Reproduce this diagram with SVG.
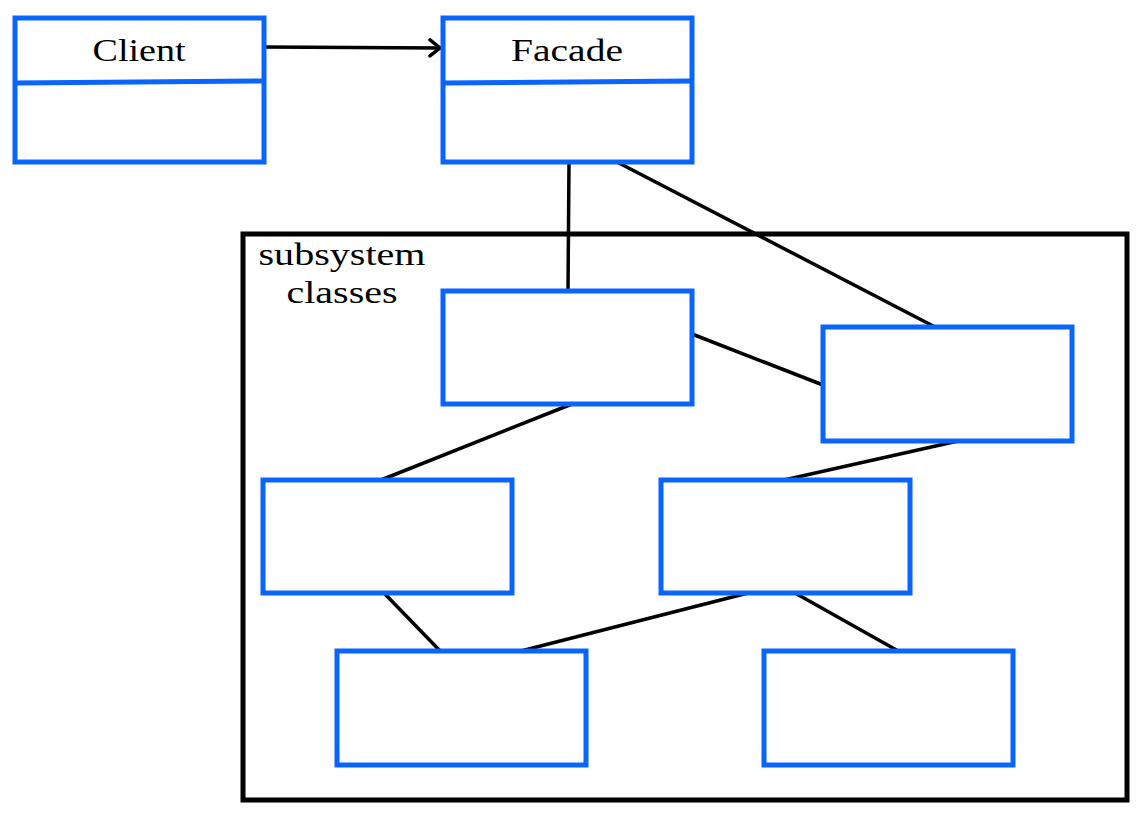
<svg xmlns="http://www.w3.org/2000/svg" width="1148" height="828" viewBox="0 0 1148 828">
<defs>
<style>
.cls{fill:#fff;stroke:#0a64ff;stroke-width:5}
.div{stroke:#0a64ff;stroke-width:5;fill:none}
.con{stroke:#000;stroke-width:3.5;fill:none;stroke-linecap:round}
.t{font-family:"Liberation Serif",serif;font-size:32px;fill:#000;text-anchor:middle}
</style>
<marker id="arr" markerWidth="14" markerHeight="20" refX="12" refY="10" orient="auto" markerUnits="userSpaceOnUse">
<path d="M2,2 L12,10 L2,18" fill="none" stroke="#000" stroke-width="3.5" stroke-linecap="round" stroke-linejoin="round"/>
</marker>
</defs>
<rect width="1148" height="828" fill="#fff"/>
<g id="subsystem">
<rect x="243" y="234" width="884" height="566" fill="none" stroke="#000" stroke-width="5"/>
<text class="t" x="342" y="265" textLength="167" lengthAdjust="spacingAndGlyphs">subsystem</text>
<text class="t" x="342" y="303" textLength="111" lengthAdjust="spacingAndGlyphs">classes</text>
</g>
<g id="connectors">
<line class="con" x1="264" y1="47" x2="440" y2="48" marker-end="url(#arr)"/>
<line class="con" x1="569" y1="162" x2="568" y2="291"/>
<line class="con" x1="617" y1="162" x2="937" y2="328"/>
<line class="con" x1="692" y1="334" x2="823" y2="385"/>
<line class="con" x1="572" y1="404" x2="381" y2="480"/>
<line class="con" x1="958" y1="441" x2="784" y2="480"/>
<line class="con" x1="384" y1="593" x2="445" y2="656"/>
<line class="con" x1="748" y1="593" x2="517" y2="652"/>
<line class="con" x1="795" y1="593" x2="900" y2="652"/>
</g>
<g id="client">
<rect class="cls" x="15" y="18" width="249" height="144"/>
<line class="div" x1="15" y1="83" x2="264" y2="81"/>
<text class="t" x="139" y="61" textLength="93" lengthAdjust="spacingAndGlyphs">Client</text>
</g>
<g id="facade">
<rect class="cls" x="443" y="18" width="249" height="144"/>
<line class="div" x1="443" y1="83" x2="692" y2="81"/>
<text class="t" x="567" y="61" textLength="112" lengthAdjust="spacingAndGlyphs">Facade</text>
</g>
<g id="sub1"><rect class="cls" x="443" y="291" width="249" height="113"/></g>
<g id="sub2"><rect class="cls" x="823" y="327" width="249" height="114"/></g>
<g id="sub3"><rect class="cls" x="263" y="480" width="249" height="113"/></g>
<g id="sub4"><rect class="cls" x="661" y="480" width="249" height="113"/></g>
<g id="sub5"><rect class="cls" x="337" y="651" width="249" height="114"/></g>
<g id="sub6"><rect class="cls" x="764" y="651" width="249" height="114"/></g>
</svg>
